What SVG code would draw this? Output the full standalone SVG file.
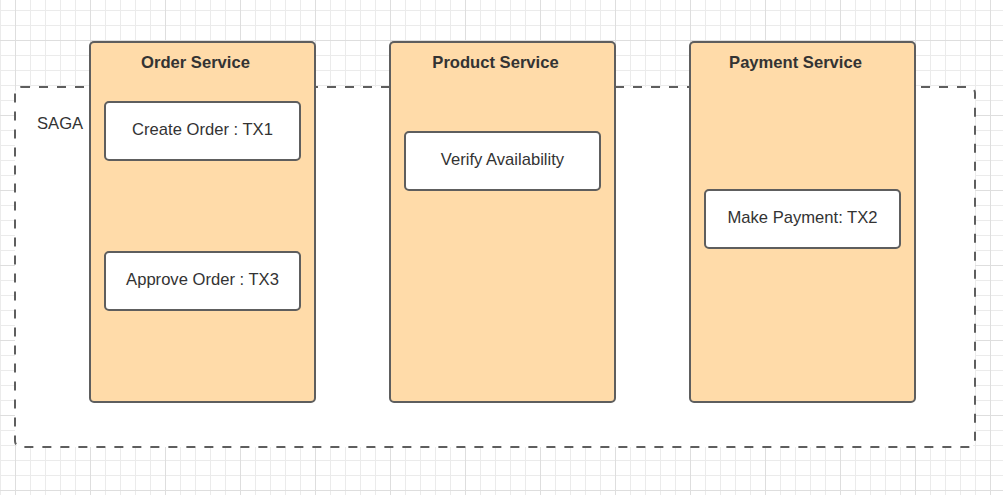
<svg xmlns="http://www.w3.org/2000/svg" width="1003" height="495" viewBox="0 0 1003 495">
<defs>
<pattern id="grid" x="0" y="10" width="15" height="15" patternUnits="userSpaceOnUse">
<path d="M0 0.5H15M0.5 0V15" stroke="#ebebeb" stroke-width="1" fill="none"/>
</pattern>
<pattern id="grid5" x="15" y="40" width="75" height="75" patternUnits="userSpaceOnUse">
<path d="M0 0.5H75M0.5 0V75" stroke="#dedede" stroke-width="1" fill="none"/>
</pattern>
<style>
.svc{fill:#ffdba9;stroke:#5e5e5e;stroke-width:2}
.tx{fill:#ffffff;stroke:#5e5e5e;stroke-width:2}
.title{font-family:"Liberation Sans",Arial,sans-serif;font-size:16.6px;font-weight:bold;fill:#333333;text-anchor:middle}
.lbl{font-family:"Liberation Sans",Arial,sans-serif;font-size:16.6px;fill:#333333;text-anchor:middle}
</style>
</defs>
<rect width="1003" height="495" fill="#ffffff"/>
<rect width="1003" height="495" fill="url(#grid)"/>
<rect width="1003" height="495" fill="url(#grid5)"/>
<g id="saga">
<rect x="15" y="87" width="960" height="360" rx="6" fill="#ffffff" stroke="#5e5e5e" stroke-width="2" stroke-dasharray="9 9"/>
<text x="37" y="129" font-family="Liberation Sans, Arial, sans-serif" font-size="16.6" fill="#333333">SAGA</text>
</g>
<g id="order-service">
<rect class="svc" x="90" y="42" width="225" height="360" rx="4"/>
<text class="title" x="195.5" y="68">Order Service</text>
</g>
<g id="product-service">
<rect class="svc" x="390" y="42" width="225" height="360" rx="4"/>
<text class="title" x="495.5" y="68">Product Service</text>
</g>
<g id="payment-service">
<rect class="svc" x="690" y="42" width="225" height="360" rx="4"/>
<text class="title" x="795.5" y="68">Payment Service</text>
</g>
<g id="create-order">
<rect class="tx" x="105" y="102" width="195" height="58" rx="4"/>
<text class="lbl" x="202.5" y="135">Create Order : TX1</text>
</g>
<g id="approve-order">
<rect class="tx" x="105" y="252" width="195" height="58" rx="4"/>
<text class="lbl" x="202.5" y="285">Approve Order : TX3</text>
</g>
<g id="verify-availability">
<rect class="tx" x="405" y="132" width="195" height="58" rx="4"/>
<text class="lbl" x="502.5" y="165">Verify Availability</text>
</g>
<g id="make-payment">
<rect class="tx" x="705" y="190" width="195" height="58" rx="4"/>
<text class="lbl" x="802.5" y="223">Make Payment: TX2</text>
</g>
<g id="connectors"/>
</svg>
